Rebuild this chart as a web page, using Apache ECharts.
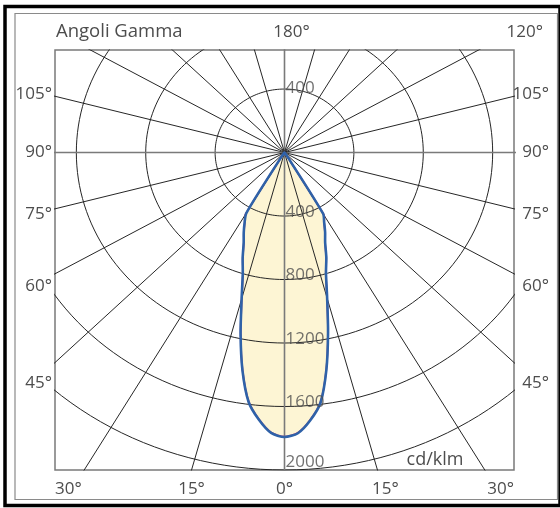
<!DOCTYPE html>
<html><head><meta charset="utf-8">
<script src="https://cdn.jsdelivr.net/npm/echarts@6/dist/echarts.min.js"></script>
<style>html,body{margin:0;padding:0;background:#fff}#main{width:560px;height:508px}</style>
</head><body><div id="main"></div>
<script>
// ---- data (cd/klm) ----
const gammaAngles = [0, 2.5, 5, 7.5, 10, 12.5, 15, 17.5, 20, 22.5, 25, 27.5, 30, 32.5, 35, 45, 60, 90, 120, 150, 180];
const c0Values    = [1792, 1770, 1695, 1590, 1390, 1160, 950, 795, 705, 612, 554, 495, 445, 40, 0, 0, 0, 0, 0, 0, 0];
const c180Values  = [1792, 1768, 1690, 1585, 1395, 1170, 955, 800, 705, 615, 556, 498, 440, 40, 0, 0, 0, 0, 0, 0, 0];
const c90Values   = [1790, 1767, 1692, 1587, 1388, 1158, 948, 793, 703, 610, 552, 494, 456, 30, 0, 0, 0, 0, 0, 0, 0];
const c270Values  = [1790, 1765, 1687, 1582, 1392, 1167, 952, 797, 703, 612, 554, 496, 452, 30, 0, 0, 0, 0, 0, 0, 0];
const ringValues  = [400, 800, 1200, 1600, 2000];
const radialAngles = [0, 15, 30, 45, 60, 75, 90, 105, 120, 135, 150, 165];
const sideLabels  = [105, 90, 75, 60, 45];
const bottomLabels = [30, 15, 0, 15, 30];
const bottomAngles = [-30, -15, 0, 15, 30];
const topLabels = ['180°', '120°'];

const FONT = 'Open Sans';
const TXT = '#4d4d4d';
const rad = d => d * Math.PI / 180;

const chart = echarts.init(document.getElementById('main'), null, {renderer: 'canvas'});

// polar -> cartesian (gamma measured from nadir)
function polarPts(vals, sign) {
  return gammaAngles.map((g, i) => [sign * vals[i] * Math.sin(rad(g)), -vals[i] * Math.cos(rad(g))]);
}
function outline(right, left) {
  const all = polarPts(right, 1).slice().reverse().concat(polarPts(left, -1));
  const out = [];
  all.forEach(p => {
    const q = out[out.length - 1];
    if (!q || Math.abs(q[0] - p[0]) > 1e-6 || Math.abs(q[1] - p[1]) > 1e-6) out.push(p);
  });
  return out;
}

const series = [];
// rings
ringValues.forEach(r => {
  const d = [];
  for (let a = 0; a <= 360; a += 2) d.push([r * Math.sin(rad(a)), r * Math.cos(rad(a))]);
  series.push({type: 'line', data: d, symbol: 'none', silent: true, clip: true, animation: false,
    lineStyle: {color: '#262626', width: 1}, z: 2});
});
// radial lines
radialAngles.forEach(g => {
  const R = 6000;
  const main = (g === 0 || g === 90);
  series.push({type: 'line', data: [[-R * Math.sin(rad(g)), R * Math.cos(rad(g))], [R * Math.sin(rad(g)), -R * Math.cos(rad(g))]],
    symbol: 'none', silent: true, clip: true, animation: false,
    lineStyle: {color: main ? '#7a7a7a' : '#262626', width: main ? 1.6 : 1}, z: 2});
});

// light distribution curves
function curveSeries(pts, fill, stroke, width, z) {
  return {type: 'custom', clip: true, animation: false, silent: true, z: z,
    data: [[0, 0]],
    renderItem: function (params, api) {
      return {type: 'polygon', shape: {points: pts.map(p => api.coord(p)), smooth: 0.25},
        style: {fill: fill, stroke: stroke, lineWidth: width, lineJoin: 'round'}};
    }};
}
const outerC0 = outline(c0Values, c180Values);
const outerC90 = outline(c90Values, c270Values);
series.push(curveSeries(outerC0, '#fdf5d4', null, 0, 1));
series.push(curveSeries(outerC90, null, '#c8457a', 1.8, 3));
series.push(curveSeries(outerC0, null, '#2f62a8', 2.6, 4));

// ring value labels
const ringLabelData = ringValues.map(r => ({value: [0, -r], label: {offset: [0, r === 2000 ? -8 : -4]}}))
  .concat([{value: [0, ringValues[0]], label: {offset: [0, -1]}}]);
series.push({type: 'scatter', symbolSize: 0, silent: true, animation: false, z: 6,
  data: ringLabelData,
  label: {show: true, position: 'right', distance: 1,
    formatter: p => String(Math.abs(p.value[1])),
    fontFamily: FONT, fontSize: 17, color: TXT}
});

chart.setOption({
  animation: false,
  grid: {left: 55, top: 50, width: 459, height: 420, show: true, borderColor: '#7a7a7a', borderWidth: 1.5, backgroundColor: 'transparent'},
  xAxis: {type: 'value', min: -1323, max: 1323, show: false},
  yAxis: {type: 'value', min: -2000, max: 646, show: false},
  series: series
});

// angle labels placed round the frame
const c = chart.convertToPixel({gridIndex: 0}, [0, 0]);
const gx0 = 55, gx1 = 514, gy0 = 50, gy1 = 470;
const g = [];
g.push({type: 'rect', shape: {x: 5, y: 6.5, width: 555, height: 499}, style: {fill: null, stroke: '#000', lineWidth: 3.5}, silent: true});
g.push({type: 'rect', shape: {x: 15, y: 13.5, width: 542.5, height: 486}, style: {fill: null, stroke: '#8a8a8a', lineWidth: 1.2}, silent: true});
const tstyle = (txt, x, y, align, size) => ({type: 'text', x: x, y: y, silent: true,
  style: {text: txt, fontFamily: FONT, fontSize: size || 17, fill: TXT, textAlign: align, textVerticalAlign: 'middle'}});
sideLabels.forEach(a => {
  const y = c[1] + 231 * Math.tan(rad(90 - a)) + (a > 90 ? 4 : 0);
  g.push(tstyle(a + '°', 52, y, 'right'));
  g.push(tstyle(a + '°', 549, y, 'right'));
});
bottomLabels.forEach((a, i) => {
  const ga = bottomAngles[i];
  let x = c[0] + (gy1 - c[1]) * Math.tan(rad(ga)) * (459 / 2646) / (420 / 2646);
  let align = 'center';
  if (ga === -30) { x = gx0; align = 'left'; }
  if (ga === 30) { x = gx1; align = 'right'; }
  if (ga === 15) x += 8;
  g.push(tstyle(a + '°', x, 489, align));
});
g.push(tstyle('Angoli Gamma', 56, 32, 'left', 18.5));
g.push(tstyle(topLabels[0], c[0] + 7, 32, 'center'));
g.push(tstyle(topLabels[1], 543, 32, 'right'));
g.push(tstyle('cd/klm', 435, 460, 'center', 18));
chart.setOption({graphic: g});
</script></body></html>
